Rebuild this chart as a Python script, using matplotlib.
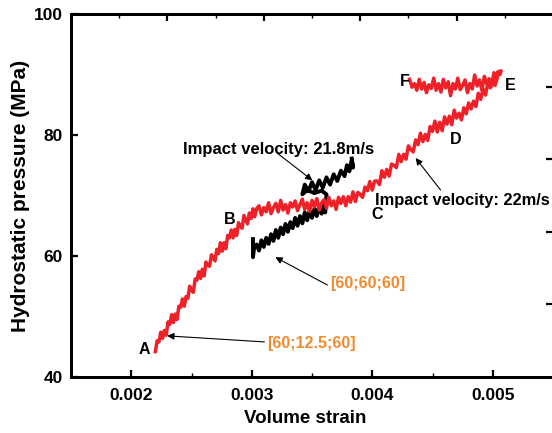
import matplotlib
matplotlib.use("Agg")
import matplotlib.pyplot as plt
from matplotlib.ticker import MultipleLocator

plt.rcParams['font.family'] = ['Liberation Sans', 'DejaVu Sans']
plt.rcParams['font.weight'] = 'bold'

# Red curve (impact velocity 22 m/s): A -> B -> C -> D -> E -> F
red_ab_x = [0.002200, 0.002215, 0.002230, 0.002245, 0.002260, 0.002275, 0.002290, 0.002305, 0.002320, 0.002335,
            0.002350, 0.002365, 0.002380, 0.002395, 0.002410, 0.002425, 0.002440, 0.002455, 0.002470, 0.002485,
            0.002500, 0.002515, 0.002530, 0.002545, 0.002560, 0.002575, 0.002590, 0.002605, 0.002620, 0.002635,
            0.002650, 0.002665, 0.002680, 0.002695, 0.002710, 0.002725, 0.002740, 0.002755, 0.002770, 0.002785,
            0.002800, 0.002815, 0.002830, 0.002845, 0.002860, 0.002875, 0.002890, 0.002905, 0.002920, 0.002935,
            0.002950, 0.002965, 0.002980, 0.002995, 0.003010, 0.003025, 0.003040]
red_ab_y = [44.2, 46.0, 45.8, 47.4, 46.4, 47.7, 46.9, 49.1, 48.7, 50.3,
            49.0, 50.4, 49.5, 51.7, 51.5, 52.9, 51.7, 53.3, 53.0, 55.0,
            54.3, 54.0, 56.2, 56.0, 57.4, 56.3, 57.8, 56.7, 59.0, 58.5,
            58.3, 60.2, 59.8, 59.2, 61.1, 60.4, 62.2, 60.8, 62.2, 61.2,
            63.4, 63.0, 64.3, 63.0, 64.4, 63.4, 65.5, 64.9, 64.6, 66.7,
            66.0, 65.3, 67.1, 66.2, 67.8, 66.5, 67.8]
red_bc_x = [0.00306, 0.00308, 0.00310, 0.00312, 0.00314, 0.00316, 0.00318, 0.00320, 0.00322, 0.00324,
            0.00326, 0.00328, 0.00330, 0.00332, 0.00334, 0.00336, 0.00338, 0.00340, 0.00342, 0.00344,
            0.00346, 0.00348, 0.00350, 0.00352, 0.00354, 0.00356, 0.00358, 0.00360, 0.00362, 0.00364,
            0.00366, 0.00368, 0.00370, 0.00372, 0.00374, 0.00376, 0.00378, 0.00380, 0.00382, 0.00384,
            0.00386, 0.00388, 0.00390]
red_bc_y = [68.3, 66.8, 68.0, 67.3, 68.8, 67.0, 68.0, 68.7, 67.3, 69.2,
            67.6, 68.5, 67.1, 68.8, 68.1, 69.1, 67.5, 68.5, 69.4, 67.7,
            68.8, 67.4, 69.2, 68.1, 69.5, 67.6, 68.8, 69.3, 67.9, 69.7,
            68.3, 69.1, 67.7, 69.7, 68.7, 69.8, 68.3, 69.8, 68.9, 70.6,
            69.0, 70.5, 70.2]
red_ce_x = [0.00392, 0.00394, 0.00396, 0.00398, 0.00400, 0.00402, 0.00404, 0.00406, 0.00408, 0.00410,
            0.00412, 0.00414, 0.00416, 0.00418, 0.00420, 0.00422, 0.00424, 0.00426, 0.00428, 0.00430,
            0.00432, 0.00434, 0.00436, 0.00438, 0.00440, 0.00442, 0.00444, 0.00446, 0.00448, 0.00450,
            0.00452, 0.00454, 0.00456, 0.00458, 0.00460, 0.00462, 0.00464, 0.00466, 0.00468, 0.00470,
            0.00472, 0.00474, 0.00476, 0.00478, 0.00480, 0.00482, 0.00484, 0.00486, 0.00488, 0.00490,
            0.00492, 0.00494, 0.00496, 0.00498, 0.00500, 0.00502, 0.00504, 0.00506, 0.00507]
red_ce_y = [69.7, 71.4, 70.8, 72.3, 70.9, 72.4, 72.4, 71.8, 74.1, 73.0,
            74.3, 73.2, 75.2, 75.0, 74.6, 76.8, 75.6, 76.8, 76.0, 78.2,
            77.6, 77.2, 79.2, 78.4, 80.3, 78.9, 80.1, 79.1, 81.4, 80.6,
            82.3, 80.5, 82.1, 80.7, 83.0, 81.8, 83.1, 81.7, 84.1, 82.8,
            83.6, 82.5, 84.5, 83.5, 85.3, 84.3, 85.6, 84.7, 86.9, 85.9,
            87.6, 86.6, 88.7, 87.8, 89.2, 88.2, 90.4, 90.0, 90.6]
red_ef_x = [0.00505, 0.00503, 0.00501, 0.00499, 0.00497, 0.00495, 0.00493, 0.00491, 0.00489, 0.00487,
            0.00485, 0.00483, 0.00481, 0.00479, 0.00477, 0.00475, 0.00473, 0.00471, 0.00469, 0.00467,
            0.00465, 0.00463, 0.00461, 0.00459, 0.00457, 0.00455, 0.00453, 0.00451, 0.00449, 0.00447,
            0.00445, 0.00443, 0.00441, 0.00439, 0.00437, 0.00435, 0.00433, 0.00431]
red_ef_y = [90.5, 88.9, 90.3, 88.1, 89.3, 88.5, 89.7, 87.4, 89.1, 88.1,
            89.9, 87.6, 88.5, 87.0, 89.1, 88.2, 87.5, 89.4, 87.6, 88.5,
            86.5, 88.8, 87.8, 89.2, 87.1, 88.5, 87.4, 89.4, 87.7, 88.3,
            87.0, 88.7, 87.6, 89.2, 87.4, 88.5, 87.9, 89.2]

# Black curve (impact velocity 21.8 m/s)
black_x = [0.00301, 0.00301, 0.00302, 0.00304, 0.00306, 0.00308, 0.00310, 0.00312, 0.00314, 0.00316,
           0.00318, 0.00320, 0.00322, 0.00324, 0.00326, 0.00328, 0.00330, 0.00332, 0.00334, 0.00336,
           0.00338, 0.00340, 0.00342, 0.00344, 0.00346, 0.00348, 0.00350, 0.00352, 0.00354, 0.00356,
           0.00358, 0.00360, 0.00361, 0.00362, 0.00358, 0.00352, 0.00346, 0.00342,
           0.00344, 0.00347, 0.00350, 0.00353, 0.00356, 0.00359, 0.00362, 0.00365, 0.00368,
           0.00371, 0.00374, 0.00377, 0.00379, 0.00381, 0.00383, 0.00384, 0.00383]
black_y = [62.8, 59.8, 61.4, 61.9, 60.9, 62.6, 61.5, 63.0, 62.0, 63.6,
           62.5, 64.3, 63.0, 64.7, 63.6, 65.3, 64.0, 65.6, 64.6, 66.3,
           65.0, 66.6, 65.4, 67.2, 65.9, 67.5, 66.3, 67.8, 66.6, 68.3,
           67.0, 68.6, 67.2, 70.2, 70.8, 70.4, 70.9, 70.2,
           71.8, 70.7, 72.2, 70.9, 72.5, 71.3, 73.0, 71.8, 73.5,
           72.4, 74.1, 73.2, 75.0, 74.0, 75.9, 74.6, 76.1]

x_ticks = [0.002, 0.003, 0.004, 0.005]
y_ticks = [40, 60, 80, 100]

red = '#EE2129'
orange = '#F28A30'

fig = plt.figure(figsize=(5.52, 4.33), dpi=100)
ax = fig.add_axes([71/552, 56/433, 482/552, 363/433])

ax.plot(black_x, black_y, color='black', lw=2.8, zorder=2)
ax.plot(red_ab_x + red_bc_x + red_ce_x + red_ef_x,
        red_ab_y + red_bc_y + red_ce_y + red_ef_y, color=red, lw=2.5, zorder=3)

ax.set_xlim(0.0015, 0.0055)
ax.set_ylim(40, 100)
ax.set_xticks(x_ticks)
ax.set_xticklabels(['0.002', '0.003', '0.004', '0.005'])
ax.xaxis.set_minor_locator(MultipleLocator(0.0005))
ax.set_yticks(y_ticks)
ax.set_yticklabels(['40', '60', '80', '100'])
ax.tick_params(which='major', direction='in', length=5, width=1.6, labelsize=12.5, pad=6)
ax.tick_params(which='minor', direction='in', length=3, width=1.0)
ax.tick_params(axis='x', which='major', pad=8)
for sp in ax.spines.values():
    sp.set_linewidth(2.0)

ax.set_xlabel('Volume strain', fontsize=13.5, fontweight='bold')
ax.set_ylabel('Hydrostatic pressure (MPa)', fontsize=15, fontweight='bold')
ax.xaxis.set_label_coords(0.485, -0.09)
ax.yaxis.set_label_coords(-0.086, 0.5)

# extra top / right tick marks
axt = ax.twiny()
axt.set_xlim(0, 1)
axt.set_xticks([0.2, 0.4, 0.6, 0.8])
axt.xaxis.set_minor_locator(MultipleLocator(0.1))
axt.tick_params(which='major', direction='in', length=5, width=1.6, labeltop=False)
axt.tick_params(which='minor', direction='in', length=3, width=1.0)
axr = ax.twinx()
axr.set_ylim(0, 1)
axr.set_yticks([0.2, 0.4, 0.6, 0.8])
axr.tick_params(which='major', direction='in', length=5, width=1.6, labelright=False)
for a in (axt, axr):
    for sp in a.spines.values():
        sp.set_linewidth(2.0)

# point labels
pts = [('A', 0.002107, 44.6), ('B', 0.002813, 66.1), ('C', 0.004044, 66.8),
       ('D', 0.004692, 79.2), ('E', 0.005149, 88.1), ('F', 0.004268, 88.9)]
for t, x, y in pts:
    ax.text(x, y, t, fontsize=11.5, fontweight='bold', ha='center', va='center', zorder=5)

arrow = dict(arrowstyle='-|>', color='black', lw=0.8, mutation_scale=10, shrinkA=0, shrinkB=0)

ax.text(0.002430, 77.6, 'Impact velocity: 21.8m/s', fontsize=12, fontweight='bold', va='center', ha='left')
ax.annotate('', xy=(0.003503, 72.5), xytext=(0.003212, 77.0), arrowprops=arrow)

ax.text(0.004020, 69.1, 'Impact velocity: 22m/s', fontsize=11.8, fontweight='bold', va='center', ha='left')
ax.annotate('', xy=(0.00436, 76.2), xytext=(0.004567, 70.9), arrowprops=arrow)

ax.text(0.003653, 55.4, '[60;60;60]', fontsize=11.5, fontweight='bold', color=orange, va='center', ha='left')
ax.annotate('', xy=(0.003196, 59.8), xytext=(0.003628, 55.2), arrowprops=arrow)

ax.text(0.003129, 45.5, '[60;12.5;60]', fontsize=11.5, fontweight='bold', color=orange, va='center', ha='left')
ax.annotate('', xy=(0.002298, 46.8), xytext=(0.003105, 45.8), arrowprops=arrow)

fig.savefig('out.png', dpi=100)
